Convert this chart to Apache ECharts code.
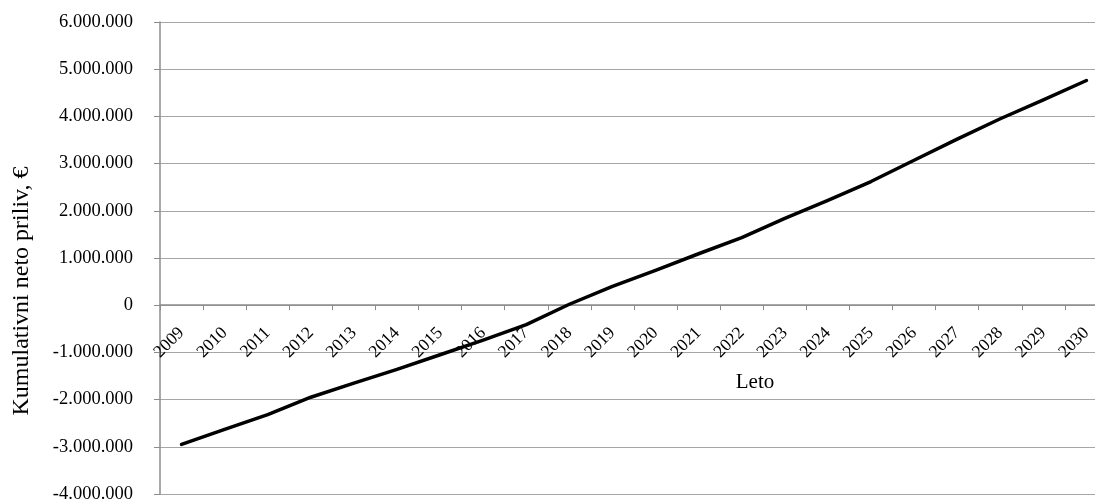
<!DOCTYPE html>
<html>
<head>
<meta charset="utf-8">
<script src="https://cdn.jsdelivr.net/npm/echarts@6/dist/echarts.min.js"></script>
<style>
  html, body { margin: 0; padding: 0; background: #fff; }
  #chart { width: 1095px; height: 502px; }
</style>
</head>
<body>
<div id="chart"></div>
<script>
// Years on the category axis
const years = ['2009','2010','2011','2012','2013','2014','2015','2016','2017','2018','2019',
               '2020','2021','2022','2023','2024','2025','2026','2027','2028','2029','2030'];

// Cumulative net inflow per year, in euros
const cumulativeInflow = [
  -2950000, -2630000, -2320000, -1950000, -1650000, -1360000, -1050000, -740000,
  -410000, 20000, 400000, 740000, 1090000, 1430000, 1840000, 2220000,
  2620000, 3070000, 3520000, 3950000, 4350000, 4760000
];

// Value axis range and step
const yMin = -4000000;
const yMax = 6000000;
const yStep = 1000000;

const yTitle = 'Kumulativni neto priliv, €';
const xTitle = 'Leto';

const serif = '"Liberation Serif", "Times New Roman", serif';

// Plot box in pixels
const gridTop = 22, gridBottom = 8, gridLeft = 160, gridRight = -13;
const plotHeight = 502 - gridTop - gridBottom;
// the category axis sits on the zero line of the value axis
const zeroOffset = -plotHeight * (0 - yMin) / (yMax - yMin);

function withDots(v) {
  const s = Math.abs(v).toString().replace(/\B(?=(\d{3})+(?!\d))/g, '.');
  return (v < 0 ? '-' : '') + s;
}

const chart = echarts.init(document.getElementById('chart'), null, { renderer: 'canvas' });

chart.setOption({
  animation: false,
  backgroundColor: '#ffffff',
  grid: {
    left: gridLeft, top: gridTop, right: gridRight, bottom: gridBottom,
    containLabel: false,
    outerBoundsMode: 'none'
  },
  xAxis: {
    type: 'category',
    data: years,
    boundaryGap: true,
    offset: zeroOffset,
    axisLine: { onZero: false, lineStyle: { color: '#8c8c8c', width: 1.5 } },
    axisTick: { show: true, alignWithLabel: false, length: 5, lineStyle: { color: '#8c8c8c' } },
    axisLabel: {
      rotate: 45,
      margin: 25,
      color: '#000',
      fontFamily: serif,
      fontSize: 17.5
    },
    splitLine: { show: false }
  },
  yAxis: {
    type: 'value',
    min: yMin,
    max: yMax,
    interval: yStep,
    axisLine: { show: true, lineStyle: { color: '#8c8c8c', width: 1.5 } },
    axisTick: { show: true, inside: false, length: 6, lineStyle: { color: '#8c8c8c' } },
    axisLabel: {
      margin: 27,
      color: '#000',
      fontFamily: serif,
      fontSize: 18.5,
      formatter: withDots
    },
    splitLine: { show: true, lineStyle: { color: '#a6a6a6', width: 1.2 } }
  },
  graphic: [
    {
      type: 'text',
      x: 22, y: 291,
      rotation: Math.PI / 2,
      style: {
        text: yTitle,
        fill: '#000',
        font: '24px ' + serif,
        align: 'center',
        verticalAlign: 'middle'
      }
    },
    {
      type: 'text',
      x: 755, y: 382,
      style: {
        text: xTitle,
        fill: '#000',
        font: '21px ' + serif,
        align: 'center',
        verticalAlign: 'middle'
      }
    }
  ],
  series: [{
    type: 'line',
    data: cumulativeInflow,
    showSymbol: false,
    symbol: 'none',
    lineStyle: { color: '#000', width: 3.5, cap: 'round', join: 'round' },
    z: 5
  }]
});
</script>
</body>
</html>
